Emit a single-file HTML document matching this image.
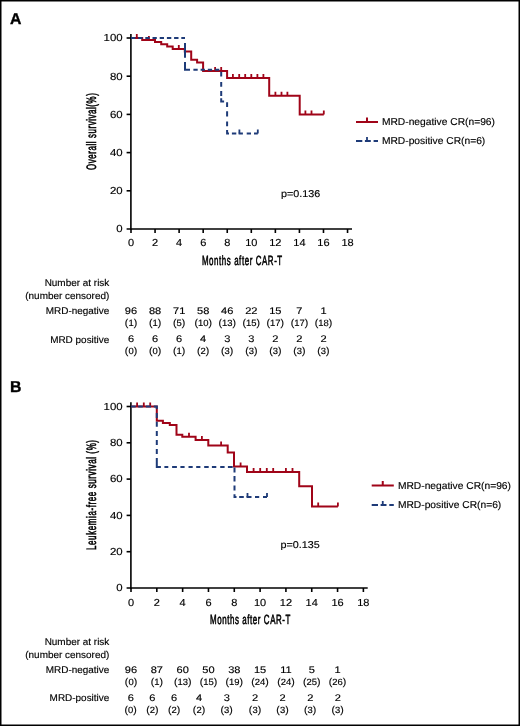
<!DOCTYPE html>
<html><head><meta charset="utf-8"><title>Figure</title>
<style>html,body{margin:0;padding:0;background:#fff;width:520px;height:726px;overflow:hidden}</style>
</head><body>
<svg width="520" height="726" viewBox="0 0 520 726" style="display:block;will-change:transform">
<rect x="0" y="0" width="520" height="726" fill="#fff"/>
<g font-family='"Liberation Sans", sans-serif' fill="#000" stroke="#000" stroke-width="0.15" text-rendering="geometricPrecision">
<text x="10.0" y="23.6" font-size="15.8" text-anchor="start" font-weight="bold" fill="#000" stroke="#000" stroke-width="0.35">A</text>
<g stroke="#000" stroke-width="1.6" fill="none">
<path d="M130.9 34 V229.8"/>
<path d="M126.6 229.0 H352"/>
<path d="M126.6 190.80 H131.0"/>
<path d="M126.6 152.60 H131.0"/>
<path d="M126.6 114.40 H131.0"/>
<path d="M126.6 76.20 H131.0"/>
<path d="M126.6 38.00 H131.0"/>
<path d="M131.00 229.0 V233.0"/>
<path d="M155.06 229.0 V233.0"/>
<path d="M179.12 229.0 V233.0"/>
<path d="M203.18 229.0 V233.0"/>
<path d="M227.24 229.0 V233.0"/>
<path d="M251.30 229.0 V233.0"/>
<path d="M275.36 229.0 V233.0"/>
<path d="M299.42 229.0 V233.0"/>
<path d="M323.48 229.0 V233.0"/>
<path d="M347.54 229.0 V233.0"/>
</g>
<text transform="translate(122.6 232.35) scale(1.12 1)" font-size="10.2" text-anchor="end" text-rendering="geometricPrecision">0</text>
<text transform="translate(122.6 194.15) scale(1.12 1)" font-size="10.2" text-anchor="end" text-rendering="geometricPrecision">20</text>
<text transform="translate(122.6 155.95) scale(1.12 1)" font-size="10.2" text-anchor="end" text-rendering="geometricPrecision">40</text>
<text transform="translate(122.6 117.75) scale(1.12 1)" font-size="10.2" text-anchor="end" text-rendering="geometricPrecision">60</text>
<text transform="translate(122.6 79.55) scale(1.12 1)" font-size="10.2" text-anchor="end" text-rendering="geometricPrecision">80</text>
<text transform="translate(122.6 41.35) scale(1.12 1)" font-size="10.2" text-anchor="end" text-rendering="geometricPrecision">100</text>
<text transform="translate(131.00 246.3) scale(1.08 1)" font-size="10.2" text-anchor="middle" text-rendering="geometricPrecision">0</text>
<text transform="translate(155.06 246.3) scale(1.08 1)" font-size="10.2" text-anchor="middle" text-rendering="geometricPrecision">2</text>
<text transform="translate(179.12 246.3) scale(1.08 1)" font-size="10.2" text-anchor="middle" text-rendering="geometricPrecision">4</text>
<text transform="translate(203.18 246.3) scale(1.08 1)" font-size="10.2" text-anchor="middle" text-rendering="geometricPrecision">6</text>
<text transform="translate(227.24 246.3) scale(1.08 1)" font-size="10.2" text-anchor="middle" text-rendering="geometricPrecision">8</text>
<text transform="translate(251.30 246.3) scale(1.08 1)" font-size="10.2" text-anchor="middle" text-rendering="geometricPrecision">10</text>
<text transform="translate(275.36 246.3) scale(1.08 1)" font-size="10.2" text-anchor="middle" text-rendering="geometricPrecision">12</text>
<text transform="translate(299.42 246.3) scale(1.08 1)" font-size="10.2" text-anchor="middle" text-rendering="geometricPrecision">14</text>
<text transform="translate(323.48 246.3) scale(1.08 1)" font-size="10.2" text-anchor="middle" text-rendering="geometricPrecision">16</text>
<text transform="translate(347.54 246.3) scale(1.08 1)" font-size="10.2" text-anchor="middle" text-rendering="geometricPrecision">18</text>
<text transform="translate(95.7 170) rotate(-90)" font-size="13.6" stroke-width="0.6" letter-spacing="1" textLength="77.4" lengthAdjust="spacingAndGlyphs">Overall survival(%)</text>
<text x="201.9" y="265.2" font-size="13.3" stroke-width="0.6" letter-spacing="1" textLength="80.90000000000002" lengthAdjust="spacingAndGlyphs">Months after CAR-T</text>
<path d="M131 38.0 H142.2 V40.0 H155.0 V42.1 H161.2 V44.3 H167.2 V46.5 H172.7 V49.0 H184.8 V51.6 H191.2 V59.8 H197.1 V62.6 H203.1 V71.1 H227.1 V78.0 H269.2 V95.8 H299.7 V114.5 H323.8" stroke="#A00418" stroke-width="2" fill="none"/>
<path d="M136.8 38 V34M148.9 40 V36M178.8 49 V45M215.1 71.1 V67.1M221.2 71.1 V67.1M232.9 78 V74M239.2 78 V74M245.2 78 V74M251.3 78 V74M257.4 78 V74M263.4 78 V74M275.4 95.8 V91.8M281.5 95.8 V91.8M287.4 95.8 V91.8M305.4 114.5 V110.5M311.5 114.5 V110.5M323.8 114.5 V110.5" stroke="#A00418" stroke-width="1.8" fill="none"/>
<path d="M131 38.0 H185.0 V69.7 H221.2 V101.4 H227.1 V133.5 H257.8" stroke="#1E3B78" stroke-width="2" fill="none" stroke-dasharray="4.3 2.9 4.3 2.8 4.3 2.9 4.3 2.9 4.3 2.9 4.4 2.8 4.4 2.8 3.7 4.9 14.9 4.2 12.7 3.4 4.3 2.9 4.3 2.9 4.3 2.9 4.3 4 4.8 5.3 4.8 4.3 4.9 2.4 6.0 3.8 4.8 4.3 5.3 4.8 4.9 3.8 5.3 2.9 4.4 2.3 4.3 3.8 4.3 3.0 3.8 1000"/>
<path d="M239.4 133.5 V129.5M257.8 133.5 V129.5" stroke="#1E3B78" stroke-width="1.8" fill="none"/>
<path d="M356 121.9 H378 M367.0 121.9 V117.4" stroke="#A00418" stroke-width="2" fill="none"/>
<path d="M356 141.1 H362.3M364.9 141.1 H370.8M373.6 141.1 H378" stroke="#1E3B78" stroke-width="2" fill="none"/>
<path d="M367.0 141.1 V137.1" stroke="#1E3B78" stroke-width="1.8" fill="none"/>
<text transform="translate(381.9 125.00) scale(1.025 1)" font-size="10" text-anchor="start" >MRD-negative CR(n=96)</text>
<text transform="translate(381.9 144.20) scale(1.025 1)" font-size="10" text-anchor="start" >MRD-positive CR(n=6)</text>
<text transform="translate(281.0 196.7) scale(1.09 1)" font-size="9.9" text-anchor="start" >p=0.136</text>
<text transform="translate(109.3 285.8) scale(1.015 1)" font-size="9.8" text-anchor="end" >Number at risk</text>
<text transform="translate(109.3 298.5) scale(1.015 1)" font-size="9.8" text-anchor="end" >(number censored)</text>
<text transform="translate(109.3 314.2) scale(1.015 1)" font-size="9.8" text-anchor="end" >MRD-negative</text>
<text transform="translate(109.3 342.5) scale(1.015 1)" font-size="9.8" text-anchor="end" >MRD positive</text>
<text transform="translate(131.00 314.2) scale(1.15 1)" font-size="9.6" text-anchor="middle" text-rendering="geometricPrecision">96</text>
<text transform="translate(155.06 314.2) scale(1.15 1)" font-size="9.6" text-anchor="middle" text-rendering="geometricPrecision">88</text>
<text transform="translate(179.12 314.2) scale(1.15 1)" font-size="9.6" text-anchor="middle" text-rendering="geometricPrecision">71</text>
<text transform="translate(203.18 314.2) scale(1.15 1)" font-size="9.6" text-anchor="middle" text-rendering="geometricPrecision">58</text>
<text transform="translate(227.24 314.2) scale(1.15 1)" font-size="9.6" text-anchor="middle" text-rendering="geometricPrecision">46</text>
<text transform="translate(251.30 314.2) scale(1.15 1)" font-size="9.6" text-anchor="middle" text-rendering="geometricPrecision">22</text>
<text transform="translate(275.36 314.2) scale(1.15 1)" font-size="9.6" text-anchor="middle" text-rendering="geometricPrecision">15</text>
<text transform="translate(299.42 314.2) scale(1.15 1)" font-size="9.6" text-anchor="middle" text-rendering="geometricPrecision">7</text>
<text transform="translate(323.48 314.2) scale(1.15 1)" font-size="9.6" text-anchor="middle" text-rendering="geometricPrecision">1</text>
<text transform="translate(131.00 326.2) scale(1.05 1)" font-size="10" text-anchor="middle" text-rendering="geometricPrecision">(<tspan font-size="9">1</tspan>)</text>
<text transform="translate(155.06 326.2) scale(1.05 1)" font-size="10" text-anchor="middle" text-rendering="geometricPrecision">(<tspan font-size="9">1</tspan>)</text>
<text transform="translate(179.12 326.2) scale(1.05 1)" font-size="10" text-anchor="middle" text-rendering="geometricPrecision">(<tspan font-size="9">5</tspan>)</text>
<text transform="translate(203.18 326.2) scale(1.05 1)" font-size="10" text-anchor="middle" text-rendering="geometricPrecision">(<tspan font-size="9">10</tspan>)</text>
<text transform="translate(227.24 326.2) scale(1.05 1)" font-size="10" text-anchor="middle" text-rendering="geometricPrecision">(<tspan font-size="9">13</tspan>)</text>
<text transform="translate(251.30 326.2) scale(1.05 1)" font-size="10" text-anchor="middle" text-rendering="geometricPrecision">(<tspan font-size="9">15</tspan>)</text>
<text transform="translate(275.36 326.2) scale(1.05 1)" font-size="10" text-anchor="middle" text-rendering="geometricPrecision">(<tspan font-size="9">17</tspan>)</text>
<text transform="translate(299.42 326.2) scale(1.05 1)" font-size="10" text-anchor="middle" text-rendering="geometricPrecision">(<tspan font-size="9">17</tspan>)</text>
<text transform="translate(323.48 326.2) scale(1.05 1)" font-size="10" text-anchor="middle" text-rendering="geometricPrecision">(<tspan font-size="9">18</tspan>)</text>
<text transform="translate(131.00 342.1) scale(1.15 1)" font-size="9.6" text-anchor="middle" text-rendering="geometricPrecision">6</text>
<text transform="translate(155.06 342.1) scale(1.15 1)" font-size="9.6" text-anchor="middle" text-rendering="geometricPrecision">6</text>
<text transform="translate(179.12 342.1) scale(1.15 1)" font-size="9.6" text-anchor="middle" text-rendering="geometricPrecision">6</text>
<text transform="translate(203.18 342.1) scale(1.15 1)" font-size="9.6" text-anchor="middle" text-rendering="geometricPrecision">4</text>
<text transform="translate(227.24 342.1) scale(1.15 1)" font-size="9.6" text-anchor="middle" text-rendering="geometricPrecision">3</text>
<text transform="translate(251.30 342.1) scale(1.15 1)" font-size="9.6" text-anchor="middle" text-rendering="geometricPrecision">3</text>
<text transform="translate(275.36 342.1) scale(1.15 1)" font-size="9.6" text-anchor="middle" text-rendering="geometricPrecision">2</text>
<text transform="translate(299.42 342.1) scale(1.15 1)" font-size="9.6" text-anchor="middle" text-rendering="geometricPrecision">2</text>
<text transform="translate(323.48 342.1) scale(1.15 1)" font-size="9.6" text-anchor="middle" text-rendering="geometricPrecision">2</text>
<text transform="translate(131.00 353.8) scale(1.05 1)" font-size="10" text-anchor="middle" text-rendering="geometricPrecision">(<tspan font-size="9">0</tspan>)</text>
<text transform="translate(155.06 353.8) scale(1.05 1)" font-size="10" text-anchor="middle" text-rendering="geometricPrecision">(<tspan font-size="9">0</tspan>)</text>
<text transform="translate(179.12 353.8) scale(1.05 1)" font-size="10" text-anchor="middle" text-rendering="geometricPrecision">(<tspan font-size="9">1</tspan>)</text>
<text transform="translate(203.18 353.8) scale(1.05 1)" font-size="10" text-anchor="middle" text-rendering="geometricPrecision">(<tspan font-size="9">2</tspan>)</text>
<text transform="translate(227.24 353.8) scale(1.05 1)" font-size="10" text-anchor="middle" text-rendering="geometricPrecision">(<tspan font-size="9">3</tspan>)</text>
<text transform="translate(251.30 353.8) scale(1.05 1)" font-size="10" text-anchor="middle" text-rendering="geometricPrecision">(<tspan font-size="9">3</tspan>)</text>
<text transform="translate(275.36 353.8) scale(1.05 1)" font-size="10" text-anchor="middle" text-rendering="geometricPrecision">(<tspan font-size="9">3</tspan>)</text>
<text transform="translate(299.42 353.8) scale(1.05 1)" font-size="10" text-anchor="middle" text-rendering="geometricPrecision">(<tspan font-size="9">3</tspan>)</text>
<text transform="translate(323.48 353.8) scale(1.05 1)" font-size="10" text-anchor="middle" text-rendering="geometricPrecision">(<tspan font-size="9">3</tspan>)</text>
<text x="10.0" y="392.0" font-size="15.8" text-anchor="start" font-weight="bold" fill="#000" stroke="#000" stroke-width="0.35">B</text>
<g stroke="#000" stroke-width="1.6" fill="none">
<path d="M130.9 402.2 V588.8"/>
<path d="M126.6 588.0 H367.7"/>
<path d="M126.6 551.70 H131.0"/>
<path d="M126.6 515.40 H131.0"/>
<path d="M126.6 479.10 H131.0"/>
<path d="M126.6 442.80 H131.0"/>
<path d="M126.6 406.50 H131.0"/>
<path d="M131.00 588.0 V592.0"/>
<path d="M156.82 588.0 V592.0"/>
<path d="M182.64 588.0 V592.0"/>
<path d="M208.46 588.0 V592.0"/>
<path d="M234.28 588.0 V592.0"/>
<path d="M260.10 588.0 V592.0"/>
<path d="M285.92 588.0 V592.0"/>
<path d="M311.74 588.0 V592.0"/>
<path d="M337.56 588.0 V592.0"/>
<path d="M363.38 588.0 V592.0"/>
</g>
<text transform="translate(122.6 591.35) scale(1.12 1)" font-size="10.2" text-anchor="end" text-rendering="geometricPrecision">0</text>
<text transform="translate(122.6 555.05) scale(1.12 1)" font-size="10.2" text-anchor="end" text-rendering="geometricPrecision">20</text>
<text transform="translate(122.6 518.75) scale(1.12 1)" font-size="10.2" text-anchor="end" text-rendering="geometricPrecision">40</text>
<text transform="translate(122.6 482.45) scale(1.12 1)" font-size="10.2" text-anchor="end" text-rendering="geometricPrecision">60</text>
<text transform="translate(122.6 446.15) scale(1.12 1)" font-size="10.2" text-anchor="end" text-rendering="geometricPrecision">80</text>
<text transform="translate(122.6 409.85) scale(1.12 1)" font-size="10.2" text-anchor="end" text-rendering="geometricPrecision">100</text>
<text transform="translate(131.00 605.9) scale(1.08 1)" font-size="10.2" text-anchor="middle" text-rendering="geometricPrecision">0</text>
<text transform="translate(156.82 605.9) scale(1.08 1)" font-size="10.2" text-anchor="middle" text-rendering="geometricPrecision">2</text>
<text transform="translate(182.64 605.9) scale(1.08 1)" font-size="10.2" text-anchor="middle" text-rendering="geometricPrecision">4</text>
<text transform="translate(208.46 605.9) scale(1.08 1)" font-size="10.2" text-anchor="middle" text-rendering="geometricPrecision">6</text>
<text transform="translate(234.28 605.9) scale(1.08 1)" font-size="10.2" text-anchor="middle" text-rendering="geometricPrecision">8</text>
<text transform="translate(260.10 605.9) scale(1.08 1)" font-size="10.2" text-anchor="middle" text-rendering="geometricPrecision">10</text>
<text transform="translate(285.92 605.9) scale(1.08 1)" font-size="10.2" text-anchor="middle" text-rendering="geometricPrecision">12</text>
<text transform="translate(311.74 605.9) scale(1.08 1)" font-size="10.2" text-anchor="middle" text-rendering="geometricPrecision">14</text>
<text transform="translate(337.56 605.9) scale(1.08 1)" font-size="10.2" text-anchor="middle" text-rendering="geometricPrecision">16</text>
<text transform="translate(363.38 605.9) scale(1.08 1)" font-size="10.2" text-anchor="middle" text-rendering="geometricPrecision">18</text>
<text transform="translate(95.5 550.0) rotate(-90)" font-size="13.6" stroke-width="0.6" letter-spacing="1" textLength="110.6" lengthAdjust="spacingAndGlyphs">Leukemia-free survival (%)</text>
<text x="210.0" y="624.2" font-size="13.3" stroke-width="0.6" letter-spacing="1" textLength="81.00000000000001" lengthAdjust="spacingAndGlyphs">Months after CAR-T</text>
<path d="M131 406.5 H156.8 V420.7 H162.9 V423.0 H169.8 V424.9 H176.5 V434.8 H182.3 V436.8 H195.6 V439.9 H208.3 V445.6 H227.7 V452.5 H234.0 V466.6 H247.0 V472.0 H299.2 V486.3 H312.0 V506.4 H337.9" stroke="#A00418" stroke-width="2" fill="none"/>
<path d="M137.1 406.5 V402.5M143.8 406.5 V402.5M150.2 406.5 V402.5M189.0 436.8 V432.8M201.9 439.9 V435.9M221.1 445.6 V441.6M240.6 466.6 V462.6M253.6 472 V468M260.2 472 V468M266.8 472 V468M273.2 472 V468M285.9 472 V468M292.5 472 V468M318.2 506.4 V502.4M337.9 506.4 V502.4" stroke="#A00418" stroke-width="1.8" fill="none"/>
<path d="M131 406.5 H156.8 V466.9 H234.5 V497.0 H267.0" stroke="#1E3B78" stroke-width="2" fill="none" stroke-dasharray="4.7 2.5 4.6 3.0 5.2 2.8 5.5 4.0 5.0 3.8 5.0 4.2 5.0 4.0 4.9 4.2 5.0 3.9 13.0 3.5 3.9 3.8 4.8 3.5 4.2 3.9 4.2 3.5 4.2 3.8 4.5 3.2 4.4 3.9 4.4 3.3 4.8 2.4 5.0 3.6 5.5 4.0 4.9 3.7 4.8 2.7 4.6 2.7 5 3.5 4.2 3.8 4.0 1000"/>
<path d="M247.5 497.0 V493.0M267.0 497.0 V493.0" stroke="#1E3B78" stroke-width="1.8" fill="none"/>
<path d="M371.7 485.5 H393.8 M382.75 485.5 V481.0" stroke="#A00418" stroke-width="2" fill="none"/>
<path d="M371.7 505.0 H378.0M380.59999999999997 505.0 H386.5M389.3 505.0 H393.8" stroke="#1E3B78" stroke-width="2" fill="none"/>
<path d="M382.75 505.0 V501.0" stroke="#1E3B78" stroke-width="1.8" fill="none"/>
<text transform="translate(397.9 488.60) scale(1.025 1)" font-size="10" text-anchor="start" >MRD-negative CR(n=96)</text>
<text transform="translate(397.9 508.10) scale(1.025 1)" font-size="10" text-anchor="start" >MRD-positive CR(n=6)</text>
<text transform="translate(280.5 548.3) scale(1.09 1)" font-size="9.9" text-anchor="start" >p=0.135</text>
<text transform="translate(109.3 645.2) scale(1.015 1)" font-size="9.8" text-anchor="end" >Number at risk</text>
<text transform="translate(109.3 657.5) scale(1.015 1)" font-size="9.8" text-anchor="end" >(number censored)</text>
<text transform="translate(109.3 673.2) scale(1.015 1)" font-size="9.8" text-anchor="end" >MRD-negative</text>
<text transform="translate(109.3 701.2) scale(1.015 1)" font-size="9.8" text-anchor="end" >MRD-positive</text>
<text transform="translate(131.00 673.2) scale(1.15 1)" font-size="9.6" text-anchor="middle" text-rendering="geometricPrecision">96</text>
<text transform="translate(156.82 673.2) scale(1.15 1)" font-size="9.6" text-anchor="middle" text-rendering="geometricPrecision">87</text>
<text transform="translate(182.64 673.2) scale(1.15 1)" font-size="9.6" text-anchor="middle" text-rendering="geometricPrecision">60</text>
<text transform="translate(208.46 673.2) scale(1.15 1)" font-size="9.6" text-anchor="middle" text-rendering="geometricPrecision">50</text>
<text transform="translate(234.28 673.2) scale(1.15 1)" font-size="9.6" text-anchor="middle" text-rendering="geometricPrecision">38</text>
<text transform="translate(260.10 673.2) scale(1.15 1)" font-size="9.6" text-anchor="middle" text-rendering="geometricPrecision">15</text>
<text transform="translate(285.92 673.2) scale(1.15 1)" font-size="9.6" text-anchor="middle" text-rendering="geometricPrecision">11</text>
<text transform="translate(311.74 673.2) scale(1.15 1)" font-size="9.6" text-anchor="middle" text-rendering="geometricPrecision">5</text>
<text transform="translate(337.56 673.2) scale(1.15 1)" font-size="9.6" text-anchor="middle" text-rendering="geometricPrecision">1</text>
<text transform="translate(131.00 684.9) scale(1.05 1)" font-size="10" text-anchor="middle" text-rendering="geometricPrecision">(<tspan font-size="9">0</tspan>)</text>
<text transform="translate(156.82 684.9) scale(1.05 1)" font-size="10" text-anchor="middle" text-rendering="geometricPrecision">(<tspan font-size="9">1</tspan>)</text>
<text transform="translate(182.64 684.9) scale(1.05 1)" font-size="10" text-anchor="middle" text-rendering="geometricPrecision">(<tspan font-size="9">13</tspan>)</text>
<text transform="translate(208.46 684.9) scale(1.05 1)" font-size="10" text-anchor="middle" text-rendering="geometricPrecision">(<tspan font-size="9">15</tspan>)</text>
<text transform="translate(234.28 684.9) scale(1.05 1)" font-size="10" text-anchor="middle" text-rendering="geometricPrecision">(<tspan font-size="9">19</tspan>)</text>
<text transform="translate(260.10 684.9) scale(1.05 1)" font-size="10" text-anchor="middle" text-rendering="geometricPrecision">(<tspan font-size="9">24</tspan>)</text>
<text transform="translate(285.92 684.9) scale(1.05 1)" font-size="10" text-anchor="middle" text-rendering="geometricPrecision">(<tspan font-size="9">24</tspan>)</text>
<text transform="translate(311.74 684.9) scale(1.05 1)" font-size="10" text-anchor="middle" text-rendering="geometricPrecision">(<tspan font-size="9">25</tspan>)</text>
<text transform="translate(337.56 684.9) scale(1.05 1)" font-size="10" text-anchor="middle" text-rendering="geometricPrecision">(<tspan font-size="9">26</tspan>)</text>
<text transform="translate(130.70 701.2) scale(1.15 1)" font-size="9.6" text-anchor="middle" text-rendering="geometricPrecision">6</text>
<text transform="translate(152.40 701.2) scale(1.15 1)" font-size="9.6" text-anchor="middle" text-rendering="geometricPrecision">6</text>
<text transform="translate(174.10 701.2) scale(1.15 1)" font-size="9.6" text-anchor="middle" text-rendering="geometricPrecision">6</text>
<text transform="translate(199.00 701.2) scale(1.15 1)" font-size="9.6" text-anchor="middle" text-rendering="geometricPrecision">4</text>
<text transform="translate(226.70 701.2) scale(1.15 1)" font-size="9.6" text-anchor="middle" text-rendering="geometricPrecision">3</text>
<text transform="translate(255.00 701.2) scale(1.15 1)" font-size="9.6" text-anchor="middle" text-rendering="geometricPrecision">2</text>
<text transform="translate(282.50 701.2) scale(1.15 1)" font-size="9.6" text-anchor="middle" text-rendering="geometricPrecision">2</text>
<text transform="translate(310.20 701.2) scale(1.15 1)" font-size="9.6" text-anchor="middle" text-rendering="geometricPrecision">2</text>
<text transform="translate(337.70 701.2) scale(1.15 1)" font-size="9.6" text-anchor="middle" text-rendering="geometricPrecision">2</text>
<text transform="translate(130.70 712.9) scale(1.05 1)" font-size="10" text-anchor="middle" text-rendering="geometricPrecision">(<tspan font-size="9">0</tspan>)</text>
<text transform="translate(152.40 712.9) scale(1.05 1)" font-size="10" text-anchor="middle" text-rendering="geometricPrecision">(<tspan font-size="9">2</tspan>)</text>
<text transform="translate(174.10 712.9) scale(1.05 1)" font-size="10" text-anchor="middle" text-rendering="geometricPrecision">(<tspan font-size="9">2</tspan>)</text>
<text transform="translate(199.00 712.9) scale(1.05 1)" font-size="10" text-anchor="middle" text-rendering="geometricPrecision">(<tspan font-size="9">2</tspan>)</text>
<text transform="translate(226.70 712.9) scale(1.05 1)" font-size="10" text-anchor="middle" text-rendering="geometricPrecision">(<tspan font-size="9">3</tspan>)</text>
<text transform="translate(255.00 712.9) scale(1.05 1)" font-size="10" text-anchor="middle" text-rendering="geometricPrecision">(<tspan font-size="9">3</tspan>)</text>
<text transform="translate(282.50 712.9) scale(1.05 1)" font-size="10" text-anchor="middle" text-rendering="geometricPrecision">(<tspan font-size="9">3</tspan>)</text>
<text transform="translate(310.20 712.9) scale(1.05 1)" font-size="10" text-anchor="middle" text-rendering="geometricPrecision">(<tspan font-size="9">3</tspan>)</text>
<text transform="translate(337.70 712.9) scale(1.05 1)" font-size="10" text-anchor="middle" text-rendering="geometricPrecision">(<tspan font-size="9">3</tspan>)</text>
</g>
<rect x="0.75" y="0.75" width="518.5" height="724.5" fill="none" stroke="#000" stroke-width="1.5"/>
</svg>
</body></html>
